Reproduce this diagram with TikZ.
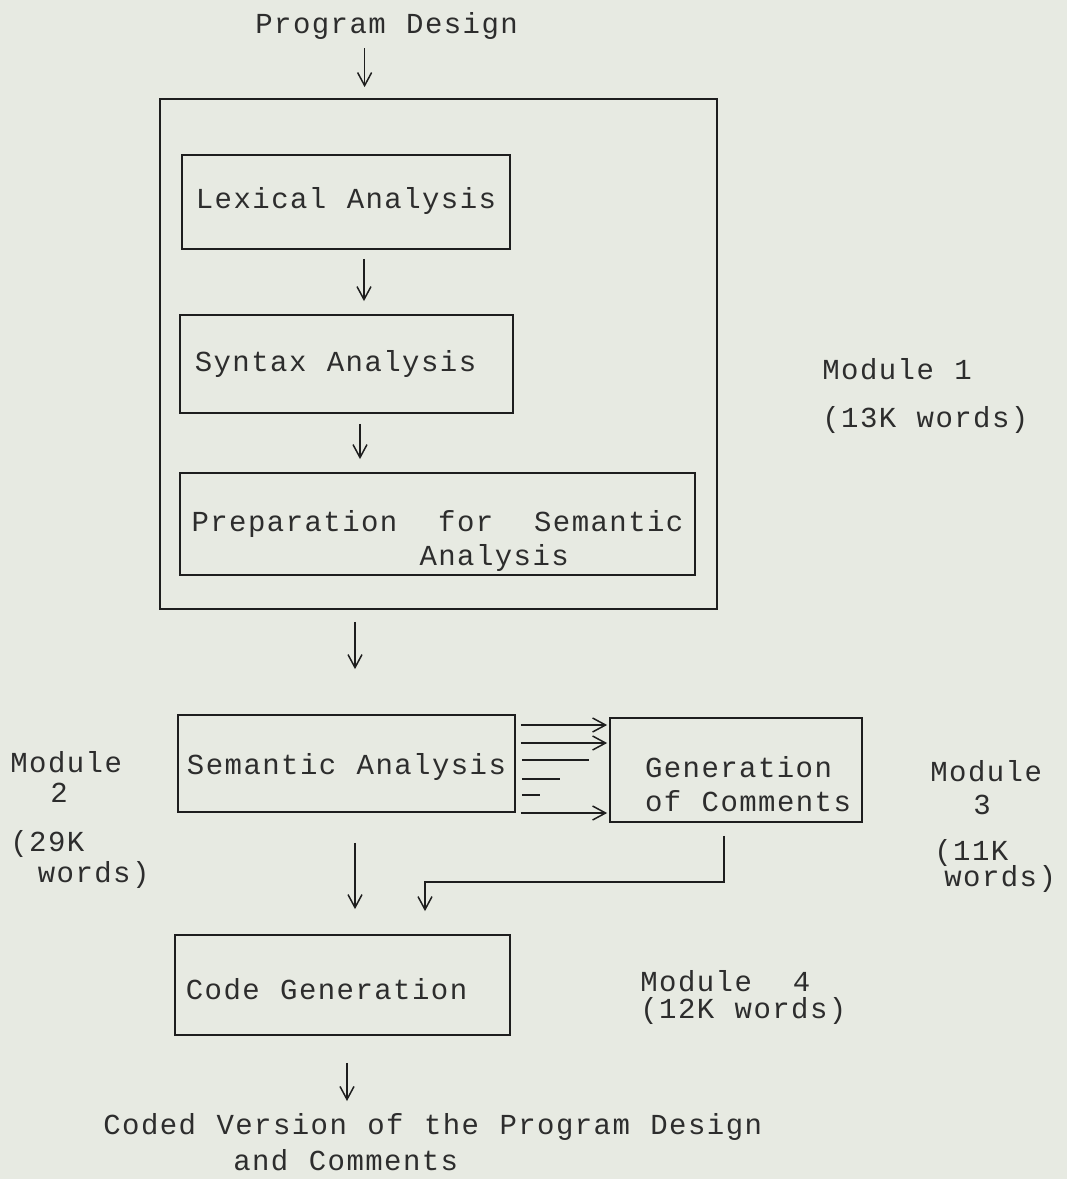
\documentclass[tikz,border=0pt]{standalone}
\usepackage{fontspec}
\usepackage{xcolor}
\usepackage{tikz}
\usetikzlibrary{positioning}
\usetikzlibrary{calc}
\usetikzlibrary{arrows, fit, arrows.meta}
\newfontfamily\typewriter[LetterSpace=5,WordSpace={1.083,0,0}]{Liberation Mono}
\def\sunk(#1)#2{\raisebox{-#1}[0pt][0pt]{#2}}
\definecolor{paper}{RGB}{231,234,226}
\definecolor{ink}{RGB}{30,30,30}
\definecolor{typed}{RGB}{45,45,45}
\tikzstyle{box} = [rectangle, draw=ink, line width=1pt, inner sep=0pt, text=typed]
\tikzstyle{tag} = [inner sep=0pt, text=typed]
\tikzstyle{arrow} = [draw=ink, line width=0.85pt, -{Straight Barb[length=2.6mm,width=2.8mm]}]
\tikzstyle{stub} = [draw=ink, line width=0.85pt]

\begin{document}
\begin{tikzpicture}[x=0.02cm, y=-0.02cm, every node/.style={font=\typewriter\fontsize{16.5}{17}\selectfont}]
\fill[paper] (0,0) rectangle (1067,1179);
% first module
\node (pd) [tag, anchor=base west] at (255,34) {Program Design};
\node (outer) [box, fit={(160,99) (717,609)}] {};
\node (lex) [box, fit={(182,155) (510,249)}] {\sunk(0.14cm){Lexical Analysis}};
\node (syn) [box, fit={(180,315) (513,413)}] {\sunk(0.14cm){Syntax Analysis\hspace{0.44cm}}};
\node (prep) [box, fit={(180,473) (695,575)}] {\sunk(0.14cm){\begin{tabular}[t]{@{}l@{}}Preparation\ \ for\ \ Semantic\\[2.3pt]\hspace*{4.56cm}Analysis\end{tabular}}};
\node (m1) [tag, anchor=north west, align=left] at (822,358) {Module 1\\[10.2pt](13K words)};
% the other modules
\node (sem) [box, fit={(178,715) (515,812)}] {\sunk(0.21cm){Semantic Analysis}};
\node (gen) [box, fit={(610,718) (862,822)}] {\sunk(0.14cm){\begin{tabular}[t]{@{}l@{}}\hspace*{0.48cm}Generation\\[2.3pt]\hspace*{0.48cm}of Comments\end{tabular}}};
\node (code) [box, fit={(175,935) (510,1035)}] {\sunk(0.28cm){Code Generation\hspace{0.64cm}}};
\node (m2) [tag, anchor=north west, align=left] at (10,751) {Module\\\hspace*{0.8cm}2\\[11.3pt](29K\\[0.6pt]\hspace*{0.55cm}words)};
\node (m3) [tag, anchor=north west, align=left] at (930,760) {Module\\[1.7pt]\hspace*{0.86cm}3\\[9.6pt]\hspace*{0.08cm}(11K\\[-2.3pt]\hspace*{0.28cm}words)};
\node (m4) [tag, anchor=north west, align=left] at (640,970) {Module\ \ 4\\[-1.5pt](12K words)};
\node (out) [tag, anchor=north west, align=left] at (103,1113) {Coded Version of the Program Design\\[3.4pt]\hspace*{2.6cm}and Comments};
% arrows
\draw[arrow, shorten <=0.16cm, shorten >=0.22cm] ([xshift=-0.44cm]pd.south) -- ([xshift=-0.44cm]pd.south |- outer.north);
\draw[arrow, shorten <=0.18cm, shorten >=0.26cm] ([xshift=0.36cm]lex.south) -- ([xshift=0.36cm]lex.south |- syn.north);
\draw[arrow, shorten <=0.2cm, shorten >=0.26cm] ([xshift=0.27cm]syn.south) -- ([xshift=0.27cm]syn.south |- prep.north);
\draw[arrow, shorten <=0.24cm, shorten >=0.9cm] ([xshift=0.17cm]sem.north |- outer.south) -- ([xshift=0.17cm]sem.north);
\foreach \y [count=\i] in {725,743,813} {
  \coordinate (ra\i) at (0,\y);
  \draw[arrow, shorten <=0.1cm, shorten >=0.04cm] (sem.east |- ra\i) -- (gen.west |- ra\i);
}
\foreach \y/\l [count=\i] in {760/67,779/38,795/18} {
  \coordinate (rb\i) at (0,\y);
  \draw[stub] (sem.east |- rb\i) ++(6,0) -- ++(\l,0);
}
\draw[arrow, shorten <=0.6cm, shorten >=0.5cm] ([xshift=0.17cm]sem.south) -- ([xshift=0.17cm]sem.south |- code.north);
\coordinate (bend) at (425,882);
\draw[arrow, shorten <=0.26cm, shorten >=0.46cm] ([xshift=-0.24cm]gen.south) |- (bend) -- (bend |- code.north);
\draw[arrow, shorten <=0.54cm, shorten >=0.24cm] ([xshift=0.09cm]code.south) -- ([xshift=0.09cm]code.south |- out.north);
\end{tikzpicture}
\end{document}
